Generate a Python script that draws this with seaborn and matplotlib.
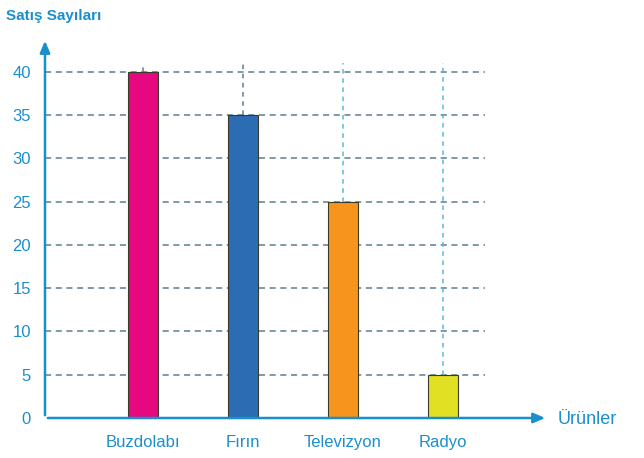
import seaborn as sns
import pandas as pd
import matplotlib.pyplot as plt

urunler = ['Buzdolabı', 'Fırın', 'Televizyon', 'Radyo']
satis = [40, 35, 25, 5]
renkler = ['#e5087e', '#2b6cb3', '#f7941d', '#e2e023']
yticks = [0, 5, 10, 15, 20, 25, 30, 35, 40]

df = pd.DataFrame({'urun': urunler, 'satis': satis})

sns.set_style('white')
plt.rcParams['font.family'] = ['Liberation Sans', 'DejaVu Sans']

fig = plt.figure(figsize=(6.44, 4.58), dpi=100)
ax = fig.add_axes([45/644, 40/458, 503/644, 380/458])

axis_col = '#1b8fcc'
grid_col = '#5d7f8c'
vline_col = '#5ab8dc'

# grid lines behind bars
for v in yticks[1:]:
    ax.hlines(v, -0.98, 3.42, colors=grid_col, linestyles=(0, (4, 3)), linewidth=1.1, zorder=0)
for i, v in enumerate(satis):
    c = grid_col if i < 2 else vline_col
    ax.vlines(i, v, 41.0, colors=c, linestyles=(0, (3, 3)), linewidth=1.1, zorder=0)

sns.barplot(data=df, x='urun', y='satis', hue='urun', palette=renkler, width=0.3,
            saturation=1, edgecolor='#3a3a2a', linewidth=0.8, legend=False, ax=ax, zorder=2)

ax.set_xlim(-0.98, 4.05)
ax.set_ylim(0, 43.9)
ax.set_yticks(yticks)
ax.set_xlabel('')
ax.set_ylabel('')
for s in ['top', 'right', 'left', 'bottom']:
    ax.spines[s].set_visible(False)

ax.tick_params(axis='both', length=0, labelsize=12, colors=axis_col)
ax.tick_params(axis='y', pad=10)
ax.tick_params(axis='x', pad=12)

# axes with arrows
ax.annotate('', xy=(0, 1.0), xytext=(0, 0), xycoords='axes fraction',
            arrowprops=dict(arrowstyle='-|>,head_width=0.3,head_length=0.7', color=axis_col, lw=1.8))
ax.annotate('', xy=(1.0, 0), xytext=(0, 0), xycoords='axes fraction',
            arrowprops=dict(arrowstyle='-|>,head_width=0.3,head_length=0.7', color=axis_col, lw=1.8))

fig.text(6/644, 1 - 16/458, 'Satış Sayıları', color=axis_col, fontsize=11, fontweight='bold', va='center')
fig.text(558/644, 1 - 420/458, 'Ürünler', color=axis_col, fontsize=13, va='center')

fig.savefig('out.png', dpi=100)
